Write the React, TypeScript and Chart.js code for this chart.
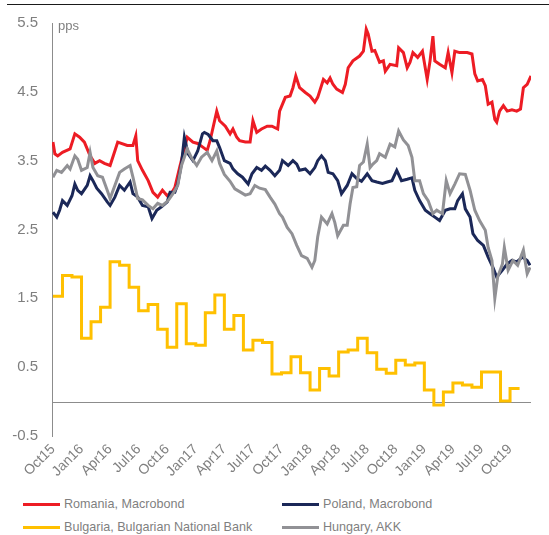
import React, { useEffect, useRef } from "react";
import { Chart, registerables } from "chart.js";

Chart.register(...registerables);

// Quarter tick labels (every 3 months from Oct 2015)
const quarterLabels = [
  "Oct15", "Jan16", "Apr16", "Jul16", "Oct16", "Jan17", "Apr17", "Jul17", "Oct17",
  "Jan18", "Apr18", "Jul18", "Oct18", "Jan19", "Apr19", "Jul19", "Oct19",
];

// [months since Oct 2015, spread in pps]
const romania: [number, number][] = [
  [0, 3.77], [0.2, 3.6], [0.5, 3.57], [1.0, 3.62], [1.8, 3.67], [2.3, 3.89], [2.8, 3.84], [3.3, 3.77],
  [3.9, 3.57], [4.4, 3.46], [4.9, 3.5], [5.4, 3.46], [6.0, 3.43], [6.5, 3.64], [6.8, 3.77], [7.8, 3.72],
  [8.4, 3.72], [8.7, 3.86], [8.9, 3.5], [9.4, 3.36], [10.0, 3.21], [10.5, 3.04], [11.0, 2.97], [11.5, 3.07],
  [12.0, 2.99], [12.5, 3.04], [12.8, 3.11], [13.3, 3.4], [14.1, 3.84], [14.7, 3.77], [15.2, 3.75], [15.7, 3.7],
  [16.2, 3.65], [16.5, 3.79], [17.2, 4.22], [17.5, 4.08], [18.1, 4.0], [18.6, 3.89], [18.9, 3.96], [19.3, 3.84],
  [19.6, 3.79], [20.2, 3.77], [20.7, 3.77], [21.0, 4.08], [21.4, 3.91], [21.9, 3.96], [22.5, 4.0], [23.0, 4.0],
  [23.6, 3.96], [23.8, 4.22], [24.4, 4.42], [24.9, 4.44], [25.2, 4.56], [25.5, 4.73], [25.9, 4.56], [26.5, 4.49],
  [27.0, 4.44], [27.5, 4.35], [27.8, 4.42], [28.4, 4.68], [28.8, 4.63], [29.1, 4.7], [29.4, 4.61], [29.8, 4.54],
  [30.4, 4.49], [30.7, 4.61], [31.0, 4.85], [31.5, 4.95], [32.2, 5.02], [32.6, 5.09], [32.9, 5.41], [33.1, 5.34],
  [33.5, 5.09], [33.8, 5.1], [34.3, 4.93], [34.7, 4.95], [34.9, 4.8], [35.4, 4.9], [36.1, 4.88], [36.3, 5.14],
  [36.8, 5.07], [37.2, 4.85], [37.5, 4.93], [37.8, 5.07], [38.3, 5.0], [38.8, 5.09], [39.3, 4.68], [39.6, 4.95],
  [39.9, 5.31], [40.1, 4.95], [40.6, 4.9], [41.2, 4.85], [41.5, 5.07], [41.9, 4.78], [42.2, 5.09], [42.7, 5.07],
  [43.5, 5.07], [44.0, 5.05], [44.3, 4.76], [44.6, 4.66], [45.1, 4.68], [45.4, 4.59], [45.7, 4.32], [46.1, 4.35],
  [46.4, 4.1], [46.6, 4.06], [46.9, 4.22], [47.3, 4.3], [47.7, 4.22], [48.2, 4.24], [48.7, 4.22], [49.1, 4.25],
  [49.4, 4.56], [49.8, 4.61], [50.2, 4.73],
];

const poland: [number, number][] = [
  [0, 2.75], [0.4, 2.68], [0.7, 2.78], [1.0, 2.92], [1.5, 2.85], [2.0, 2.99], [2.3, 3.16], [2.6, 3.07],
  [3.0, 3.02], [3.6, 3.14], [3.9, 3.28], [4.2, 3.21], [4.6, 3.1], [5.1, 3.02], [5.7, 2.9], [6.0, 2.85],
  [6.5, 2.97], [7.0, 3.14], [7.5, 3.07], [8.1, 3.19], [8.4, 3.02], [8.9, 2.97], [9.4, 2.85], [10.0, 2.83],
  [10.4, 2.66], [10.9, 2.78], [11.4, 2.83], [12.0, 2.9], [12.3, 3.04], [12.8, 3.04], [13.1, 3.16], [13.5, 3.46],
  [13.8, 3.84], [14.2, 3.6], [14.7, 3.5], [15.2, 3.64], [15.7, 3.89], [15.9, 3.91], [16.3, 3.88], [16.8, 3.79],
  [17.2, 3.79], [17.5, 3.69], [18.0, 3.5], [18.6, 3.46], [18.9, 3.38], [19.4, 3.31], [19.9, 3.26], [20.5, 3.16],
  [20.9, 3.31], [21.4, 3.4], [21.9, 3.36], [22.3, 3.42], [22.8, 3.36], [23.3, 3.28], [23.8, 3.36], [24.1, 3.5],
  [24.7, 3.43], [25.2, 3.5], [25.6, 3.45], [25.9, 3.36], [26.5, 3.38], [27.0, 3.31], [27.5, 3.4], [27.8, 3.5],
  [28.2, 3.57], [28.6, 3.5], [28.9, 3.33], [29.4, 3.31], [29.9, 3.21], [30.3, 3.02], [30.9, 3.14], [31.4, 3.31],
  [31.9, 3.24], [32.4, 3.2], [33.0, 3.31], [33.5, 3.21], [34.0, 3.19], [34.6, 3.17], [35.1, 3.19], [35.6, 3.21],
  [36.1, 3.36], [36.6, 3.21], [37.2, 3.23], [37.7, 3.25], [38.0, 3.07], [38.5, 2.92], [39.1, 2.78], [39.6, 2.73],
  [40.1, 2.68], [40.6, 2.63], [41.2, 2.78], [41.7, 2.8], [42.2, 2.8], [42.5, 2.92], [43.0, 3.02], [43.3, 2.8],
  [43.8, 2.68], [44.1, 2.44], [44.6, 2.34], [45.2, 2.27], [45.7, 2.1], [46.2, 1.95], [46.6, 1.81], [47.2, 1.91],
  [47.7, 2.0], [48.2, 2.05], [48.7, 2.03], [49.3, 2.1], [49.8, 2.05], [50.1, 1.98],
];

const hungary: [number, number][] = [
  [0, 3.26], [0.4, 3.36], [0.9, 3.33], [1.5, 3.43], [1.8, 3.38], [2.3, 3.57], [2.6, 3.52], [3.0, 3.36],
  [3.6, 3.4], [3.9, 3.62], [4.2, 3.4], [4.7, 3.28], [5.2, 3.26], [5.7, 3.07], [6.0, 2.95], [6.5, 3.14],
  [7.0, 3.33], [7.5, 3.38], [8.1, 3.43], [8.4, 3.26], [8.9, 2.95], [9.4, 2.93], [10.0, 2.85], [10.5, 2.8],
  [11.0, 2.88], [11.5, 2.85], [12.1, 2.92], [12.6, 3.02], [13.1, 3.14], [13.5, 3.43], [14.1, 3.67], [14.6, 3.53],
  [15.1, 3.43], [15.6, 3.55], [16.2, 3.62], [16.7, 3.5], [17.2, 3.64], [17.5, 3.46], [18.0, 3.3], [18.6, 3.2],
  [19.1, 3.09], [19.6, 3.05], [20.2, 3.0], [20.7, 3.02], [21.2, 3.14], [21.7, 3.1], [22.3, 3.08], [22.8, 2.97],
  [23.3, 2.87], [23.8, 2.73], [24.1, 2.68], [24.6, 2.53], [25.1, 2.44], [25.6, 2.27], [26.1, 2.12], [26.7, 2.08],
  [27.2, 1.95], [27.5, 2.05], [27.8, 2.39], [28.2, 2.68], [28.8, 2.58], [29.3, 2.73], [29.6, 2.6], [29.9, 2.41],
  [30.5, 2.56], [30.9, 2.56], [31.2, 2.87], [31.5, 3.11], [31.9, 3.12], [32.2, 3.43], [32.6, 3.48], [33.0, 3.74],
  [33.3, 3.4], [33.6, 3.45], [34.0, 3.5], [34.3, 3.6], [34.9, 3.55], [35.4, 3.74], [35.9, 3.7], [36.3, 3.93],
  [36.8, 3.8], [37.3, 3.72], [37.7, 3.55], [38.0, 3.21], [38.5, 3.21], [38.9, 3.02], [39.4, 2.92], [39.9, 2.73],
  [40.3, 2.78], [40.9, 2.73], [41.3, 3.21], [41.7, 3.02], [42.2, 3.16], [42.7, 3.31], [43.3, 3.3], [43.8, 3.07],
  [44.3, 2.78], [44.8, 2.63], [45.4, 2.49], [45.7, 2.24], [46.1, 2.05], [46.4, 1.5], [46.7, 1.81], [47.2, 2.0],
  [47.4, 2.24], [47.8, 1.91], [48.3, 2.05], [48.8, 1.98], [49.4, 2.2], [49.8, 1.86], [50.1, 1.95],
];

// Bulgaria: monthly values (month 0 = Oct15), last entry closes the final step
const bulgariaMonths = [
  0, 1, 2, 3, 4, 5, 6, 7, 8, 9, 10, 11, 12, 13, 14, 15, 16, 17, 18, 19, 20, 21, 22, 23, 24,
  25, 26, 27, 28, 29, 30, 31, 32, 33, 34, 35, 36, 37, 38, 39, 40, 41, 42, 43, 44, 45, 46, 47, 48, 49,
];
const bulgariaValues = [
  1.53, 1.83, 1.81, 0.92, 1.16, 1.37, 2.03, 1.98, 1.66, 1.32, 1.41, 1.05, 0.79, 1.42, 0.84, 0.82, 1.29,
  1.55, 1.05, 1.25, 0.75, 0.89, 0.86, 0.4, 0.42, 0.65, 0.42, 0.17, 0.48, 0.37, 0.72, 0.75, 0.92, 0.71,
  0.47, 0.41, 0.6, 0.53, 0.56, 0.17, -0.05, 0.14, 0.27, 0.24, 0.21, 0.43, 0.43, 0.01, 0.19, 0.19,
];

const RED = "#ed1c24";
const NAVY = "#1b2858";
const YELLOW = "#ffc000";
const GRAY = "#919195";
const TEXT = "#7f7f7f";
const FONT = "'Liberation Sans', Arial, sans-serif";

const legendItems = [
  { label: "Romania, Macrobond", color: RED, left: 23, top: 497 },
  { label: "Poland, Macrobond", color: NAVY, left: 282, top: 497 },
  { label: "Bulgaria, Bulgarian National Bank", color: YELLOW, left: 23, top: 520 },
  { label: "Hungary, AKK", color: GRAY, left: 282, top: 520 },
];

export default function App() {
  const ref = useRef<HTMLCanvasElement | null>(null);

  useEffect(() => {
    if (!ref.current) return;
    const zeroLine = {
      id: "zeroLine",
      beforeDatasetsDraw(chart: any) {
        const { ctx, chartArea, scales } = chart;
        const py = Math.round(scales.y.getPixelForValue(0)) + 0.5;
        ctx.save();
        ctx.strokeStyle = "#8c8c8c";
        ctx.lineWidth = 1;
        ctx.beginPath();
        ctx.moveTo(chartArea.left, py);
        ctx.lineTo(chartArea.right, py);
        ctx.stroke();
        ctx.restore();
      },
    };
    const unitLabel = {
      id: "unitLabel",
      afterDraw(chart: any) {
        const { ctx, chartArea } = chart;
        ctx.save();
        ctx.fillStyle = TEXT;
        ctx.font = `13px ${FONT}`;
        ctx.textBaseline = "middle";
        ctx.fillText("pps", chartArea.left + 6, chartArea.top + 3);
        ctx.restore();
      },
    };
    const line = (data: { x: number; y: number }[], color: string, order: number, extra: any = {}) => ({
      data,
      borderColor: color,
      backgroundColor: color,
      borderWidth: 3,
      pointRadius: 0,
      tension: 0,
      fill: false,
      order,
      ...extra,
    });
    const chart = new Chart(ref.current, {
      type: "line",
      data: {
        datasets: [
          { label: "Romania, Macrobond", ...line(romania.map(([x, y]) => ({ x, y })), RED, 3) },
          { label: "Poland, Macrobond", ...line(poland.map(([x, y]) => ({ x, y })), NAVY, 1) },
          {
            label: "Bulgaria, Bulgarian National Bank",
            ...line(bulgariaMonths.map((x, i) => ({ x, y: bulgariaValues[i] })), YELLOW, 2, { stepped: true }),
          },
          { label: "Hungary, AKK", ...line(hungary.map(([x, y]) => ({ x, y })), GRAY, 0) },
        ],
      } as any,
      options: {
        animation: false,
        responsive: false,
        layout: { padding: { top: 22, right: 18, left: 0, bottom: 0 } },
        plugins: { legend: { display: false }, tooltip: { enabled: false } },
        scales: {
          x: {
            type: "linear",
            min: -0.1,
            max: 50.2,
            grid: { display: false, drawTicks: false },
            border: { display: false },
            afterBuildTicks: (s: any) => {
              s.ticks = quarterLabels.map((_, i) => ({ value: i * 3 }));
            },
            afterFit: (s: any) => {
              s.height = 54;
            },
            ticks: {
              autoSkip: false,
              minRotation: 45,
              maxRotation: 45,
              padding: 5,
              color: TEXT,
              font: { family: FONT, size: 14 },
              callback: (v: any) => quarterLabels[Math.round(Number(v) / 3)],
            },
          },
          y: {
            min: -0.5,
            max: 5.5,
            grid: { display: false, drawTicks: false },
            border: { display: true, color: "#8c8c8c", width: 1 },
            afterFit: (s: any) => {
              s.width = 52;
            },
            ticks: {
              stepSize: 1,
              padding: 14,
              color: TEXT,
              font: { family: FONT, size: 15 },
              callback: (v: any) => Number(v).toFixed(1),
            },
          },
        },
      } as any,
      plugins: [zeroLine, unitLabel],
    });
    return () => chart.destroy();
  }, []);

  return (
    <div style={{ position: "absolute", left: 0, top: 0, width: 549, height: 535, background: "#fff", fontFamily: FONT }}>
      <div style={{ position: "absolute", left: 7, top: 4, width: 542, height: 1, background: "#1a1a1a" }} />
      <canvas ref={ref} width={549} height={490} style={{ position: "absolute", left: 0, top: 0, width: 549, height: 490 }} />
      {legendItems.map((it) => (
        <div key={it.label} style={{ position: "absolute", left: it.left, top: it.top, height: 14, display: "flex", alignItems: "center" }}>
          <div style={{ width: 37, height: 3, background: it.color, marginRight: 4 }} />
          <span style={{ fontSize: 12.6, color: TEXT, whiteSpace: "nowrap", lineHeight: "14px" }}>{it.label}</span>
        </div>
      ))}
    </div>
  );
}
